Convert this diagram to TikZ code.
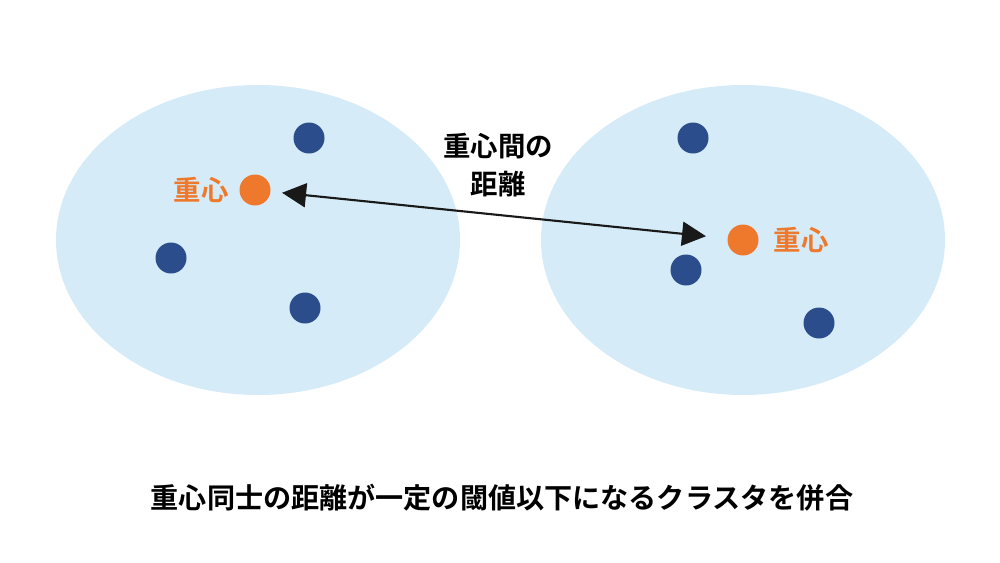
\documentclass[tikz,border=0pt]{standalone}
\usepackage{fontspec}
\setmainfont{Noto Sans CJK JP}[BoldFont={Noto Sans CJK JP Bold}]
\usepackage{tikz}
\usepackage{xcolor}
\usetikzlibrary{arrows.meta}
\definecolor{cloud}{RGB}{213,236,248}
\definecolor{pt}{RGB}{44,77,140}
\definecolor{cg}{RGB}{238,120,44}

\begin{document}
\begin{tikzpicture}[scale=1,
  dot/.style={circle,fill=pt,inner sep=0pt,minimum size=0.31cm},
  cdot/.style={circle,fill=cg,inner sep=0pt,minimum size=0.31cm},
  clab/.style={text=cg,font=\fontsize{7.8pt}{9pt}\selectfont\bfseries}]
  \useasboundingbox (0,0) rectangle (10,5.62);
  \fill[cloud] (2.58,3.22) ellipse (2.02 and 1.55);
  \fill[cloud] (7.43,3.22) ellipse (2.02 and 1.55);
  % left cluster
  \node[dot] (a1) at (3.09,4.24) {};
  \node[dot] (a2) at (1.71,3.04) {};
  \node[dot] (a3) at (3.05,2.54) {};
  \node[cdot] (gl) at (2.55,3.72) {};
  \node[clab] (ll) at (2.01,3.72) {重心};
  % right cluster
  \node[dot] (b1) at (6.93,4.24) {};
  \node[dot] (b2) at (6.86,2.92) {};
  \node[dot] (b3) at (8.19,2.39) {};
  \node[cdot] (gr) at (7.43,3.22) {};
  \node[clab] (lr) at (8.01,3.22) {重心};
  \draw[{Triangle[length=0.24cm,width=0.24cm]}-{Triangle[length=0.24cm,width=0.24cm]},line width=0.6pt,black!90]
    (gl) [shorten <=0.11cm,shorten >=0.21cm] -- (gr);
  \node[align=center,font=\fontsize{7.8pt}{10.6pt}\selectfont\bfseries] (dist) at (4.98,3.97) {重心間の\\距離};
  \node[font=\fontsize{8pt}{10pt}\selectfont\bfseries] (cap) at (5.02,0.64) {重心同士の距離が一定の閾値以下になるクラスタを併合};
\end{tikzpicture}
\end{document}
